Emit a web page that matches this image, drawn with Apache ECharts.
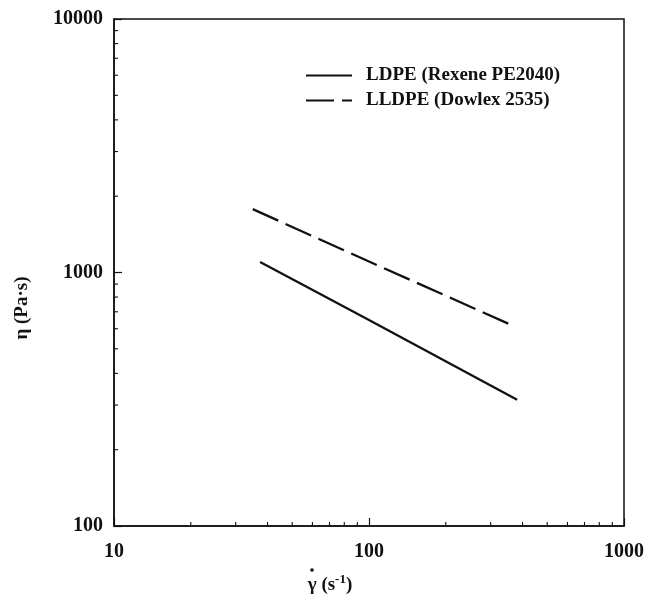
<!DOCTYPE html>
<html>
<head>
<meta charset="utf-8">
<script src="https://cdn.jsdelivr.net/npm/echarts@6/dist/echarts.min.js"></script>
<style>
html, body { margin: 0; padding: 0; background: #fff; }
#main { width: 647px; height: 597px; }
</style>
</head>
<body>
<div id="main"></div>
<script>
// 数据
var ldpeRate = [37.4, 100, 381];
var ldpeVisc = [1099, 650, 315];
var lldpeRate = [35.0, 100, 359];
var lldpeVisc = [1778, 1105, 623];

// minor tick positions
var minorX = [20, 30, 40, 50, 60, 70, 80, 90, 200, 300, 400, 500, 600, 700, 800, 900];
var minorY = [200, 300, 400, 500, 600, 700, 800, 900, 2000, 3000, 4000, 5000, 6000, 7000, 8000, 9000];

var serif = '"Liberation Serif", "DejaVu Serif", serif';

function pairs(xs, ys) {
	var out = [];
	for (var i = 0; i < xs.length; i++) {
		out.push([xs[i], ys[i]]);
	}
	return out;
}

function plain(v) {
	return String(Math.round(v));
}

var chart = echarts.init(document.getElementById('main'));

var option = {
	animation : false,
	backgroundColor : '#fff',
	grid : {
		left : 114,
		top : 19,
		right : 23,
		bottom : 71,
		show : true,
		borderColor : '#111',
		borderWidth : 1.5
	},
	legend : {
		data : [ 'LDPE (Rexene PE2040)', 'LLDPE (Dowlex 2535)' ],
		orient : 'vertical',
		left : 300,
		top : 61,
		itemWidth : 46,
		itemHeight : 14,
		itemGap : 6,
		itemStyle : { opacity : 0 },
		textStyle : {
			fontFamily : serif,
			fontWeight : 'bold',
			fontSize : 19,
			color : '#111',
			padding : [ 0, 0, 0, 9 ]
		}
	},
	xAxis : {
		type : 'log',
		logBase : 10,
		min : 10,
		max : 1000,
		axisLine : { lineStyle : { color : '#111', width : 1.5 } },
		axisTick : { inside : true, length : 8, lineStyle : { color : '#111', width : 1.2 } },
		splitLine : { show : false },
		axisLabel : {
			fontFamily : serif,
			fontWeight : 'bold',
			fontSize : 20,
			color : '#111',
			margin : 16,
			formatter : plain
		}
	},
	yAxis : {
		type : 'log',
		logBase : 10,
		min : 100,
		max : 10000,
		axisLine : { lineStyle : { color : '#111', width : 1.5 } },
		axisTick : { inside : true, length : 8, lineStyle : { color : '#111', width : 1.2 } },
		splitLine : { show : false },
		axisLabel : {
			fontFamily : serif,
			fontWeight : 'bold',
			fontSize : 20,
			color : '#111',
			margin : 11,
			formatter : plain
		}
	},
	graphic : [ {
		type : 'text',
		x : 22,
		y : 308,
		rotation : Math.PI / 2,
		style : {
			text : 'η (Pa·s)',
			font : 'bold 19px ' + serif,
			fill : '#111',
			align : 'center',
			verticalAlign : 'middle'
		}
	}, {
		type : 'text',
		x : 330,
		y : 585,
		style : {
			text : 'γ (s{s|-1})',
			font : 'bold 19px ' + serif,
			fill : '#111',
			align : 'center',
			verticalAlign : 'middle',
			rich : {
				s : { font : 'bold 13px ' + serif, fill : '#111', padding : [ 0, 0, 10, 0 ] }
			}
		}
	}, {
		// γ 上面的点
		type : 'circle',
		shape : { cx : 312, cy : 570, r : 1.8 },
		style : { fill : '#111' }
	} ],
	series : [ {
		name : 'LDPE (Rexene PE2040)',
		type : 'line',
		data : pairs(ldpeRate, ldpeVisc),
		symbol : 'none',
		lineStyle : { color : '#111', width : 2.3, type : 'solid' },
		itemStyle : { color : '#111' }
	}, {
		name : 'LLDPE (Dowlex 2535)',
		type : 'line',
		data : pairs(lldpeRate, lldpeVisc),
		symbol : 'none',
		lineStyle : { color : '#111', width : 2.3, type : [ 28, 8 ] },
		itemStyle : { color : '#111' }
	}, {
		// x 轴次刻度
		type : 'custom',
		silent : true,
		data : minorX.map(function(v) { return [ v, 100 ]; }),
		renderItem : function(params, api) {
			var p = api.coord([ api.value(0), 100 ]);
			return {
				type : 'line',
				shape : { x1 : p[0], y1 : p[1], x2 : p[0], y2 : p[1] - 4 },
				style : { stroke : '#111', lineWidth : 1.1 }
			};
		}
	}, {
		// y 轴次刻度
		type : 'custom',
		silent : true,
		data : minorY.map(function(v) { return [ 10, v ]; }),
		renderItem : function(params, api) {
			var p = api.coord([ 10, api.value(1) ]);
			return {
				type : 'line',
				shape : { x1 : p[0], y1 : p[1], x2 : p[0] + 4, y2 : p[1] },
				style : { stroke : '#111', lineWidth : 1.1 }
			};
		}
	} ]
};

chart.setOption(option);
</script>
</body>
</html>
